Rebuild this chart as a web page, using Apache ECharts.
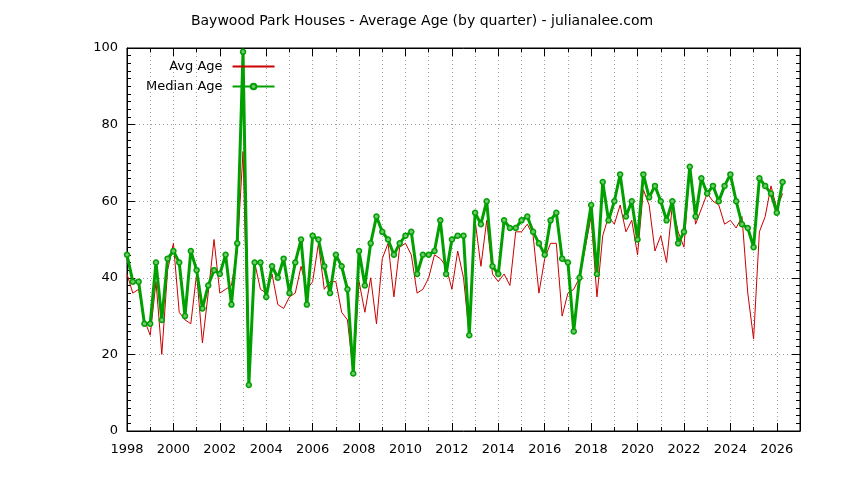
<!DOCTYPE html>
<html>
<head>
<meta charset="utf-8">
<script src="https://cdn.jsdelivr.net/npm/echarts@6/dist/echarts.min.js"></script>
<style>
  html, body { margin: 0; padding: 0; background: #fff; }
  #chart { width: 844px; height: 480px; }
</style>
</head>
<body>
<div id="chart"></div>
<script>
// quarterly values, 1998 Q1 .. 2026 Q2 (null = no sales that quarter)
const startYear = 1998
const avgAge = [
  41, 36, 37, 29,   25, 39, 20, 42,   49, 31, 29, 28,   41, 23, 36, 50,
  36, 37, 38, 47,   73, 12, 44, 37,   36, 41, 33, 32,   35, 36, 43, 37,
  39, 49, 37, 39,   39, 31, 29, 15,   39, 31, 40, 28,   45, 49, 35, 48,
  49, 46, 36, 37,   40, 46, 45, 43,   37, 47, 40, 25,   55, 43, 55, 41,
  39, 41, 38, 52,   52, 54, 51, 36,   45, 49, 49, 30,   36, 37, 40, null,
  56, 35, 51, 56,   54, 59, 52, 55,   46, 63, 59, 47,   51, 44, 59, 52,
  48, 69, 54, 58,   62, 60, 59, 54,   55, 53, 56, 36,   24, 52, 56, 64,
  58, 62
]
const medianAge = [
  46, 39, 39, 28,   28, 44, 29, 45,   47, 44, 30, 47,   42, 32, 38, 42,
  41, 46, 33, 49,   99, 12, 44, 44,   35, 43, 40, 45,   36, 44, 50, 33,
  51, 50, 43, 36,   46, 43, 37, 15,   47, 38, 49, 56,   52, 50, 46, 49,
  51, 52, 41, 46,   46, 47, 55, 41,   50, 51, 51, 25,   57, 54, 60, 43,
  41, 55, 53, 53,   55, 56, 52, 49,   46, 55, 57, 45,   44, 26, 40, null,
  59, 41, 65, 55,   60, 67, 56, 60,   50, 67, 61, 64,   60, 55, 60, 49,
  52, 69, 56, 66,   62, 64, 60, 64,   67, 60, 54, 53,   48, 66, 64, 62,
  57, 65
]
const yTicks = [0, 20, 40, 60, 80, 100]

const toPairs = vals => vals
  .map((v, i) => [startYear + i / 4, v])
  .filter(p => p[1] !== null)

const font = 'DejaVu Sans'
const black = '#000'
const dotted = {show: true, lineStyle: {color: '#a0a0a0', type: [1, 3], width: 1}}

// x axes: yearly minor ticks + grid, major ticks every 2 years (bottom and mirrored top)
function xAx(pos, step, len, labels, grid) {
  return {
    type: 'value', min: 1998, max: 2027, interval: step, position: pos,
    axisLine: {show: step === 1, lineStyle: {color: black}},
    axisTick: {inside: true, length: len, lineStyle: {color: black}},
    axisLabel: labels ? {
      color: black, fontSize: 13, fontFamily: font, margin: 12,
      formatter: v => (v % 2 === 0 && v < 2027 ? String(v) : '')
    } : {show: false},
    splitLine: grid ? dotted : {show: false}
  }
}
function yAx(pos, labels) {
  return {
    type: 'value', min: yTicks[0], max: yTicks[yTicks.length - 1], interval: 20, position: pos,
    axisLine: {show: true, lineStyle: {color: black}},
    axisTick: {show: true, inside: true, length: 8, lineStyle: {color: black}},
    minorTick: {show: true, splitNumber: 10, length: 4, lineStyle: {color: black}},
    axisLabel: labels ? {color: black, fontSize: 13, fontFamily: font, margin: 9} : {show: false},
    splitLine: labels ? dotted : {show: false}
  }
}

const chart = echarts.init(document.getElementById('chart'))
chart.setOption({
  animation: false,
  backgroundColor: '#fff',
  textStyle: {fontFamily: font},
  title: {
    text: 'Baywood Park Houses - Average Age (by quarter) - julianalee.com',
    left: 'center',
    top: 9,
    textStyle: {fontFamily: font, fontSize: 14, fontWeight: 'normal', color: black}
  },
  legend: {
    orient: 'vertical',
    align: 'right',
    left: 146,
    top: 60,
    padding: 0,
    itemWidth: 42,
    itemHeight: 7,
    itemGap: 7,
    formatter: '{t|{name}}',
    textStyle: {
      fontFamily: font, fontSize: 13, color: black,
      rich: {t: {width: 95, align: 'right', padding: [0, 5, 0, 0], fontFamily: font, fontSize: 13, color: black}}
    },
    data: [
      {name: 'Avg Age', itemStyle: {color: 'rgba(0,0,0,0)', borderWidth: 0, opacity: 0}},
      'Median Age'
    ]
  },
  grid: {
    left: 127, right: 44, top: 48, bottom: 49,
    show: true, borderColor: black, borderWidth: 1
  },
  xAxis: [
    xAx('bottom', 1, 4, true, true),
    xAx('bottom', 2, 8, false, false),
    xAx('top', 1, 4, false, false),
    xAx('top', 2, 8, false, false)
  ],
  yAxis: [yAx('left', true), yAx('right', false)],
  series: [{
    name: 'Avg Age',
    type: 'line',
    data: toPairs(avgAge),
    symbol: 'none',
    color: '#cc0000',
    lineStyle: {color: '#cc0000', width: 1},
    z: 2
  }, {
    name: 'Median Age',
    type: 'line',
    data: toPairs(medianAge),
    symbol: 'circle',
    symbolSize: 5,
    showAllSymbol: true,
    color: '#00a000',
    itemStyle: {color: '#70c870', borderColor: '#00a000', borderWidth: 1.5},
    lineStyle: {color: '#00a000', width: 3},
    z: 3
  }]
})
</script>
</body>
</html>
